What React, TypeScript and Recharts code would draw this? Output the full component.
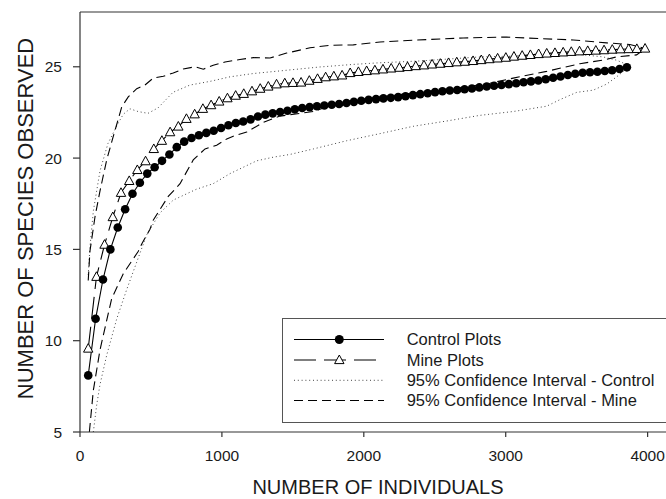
import React from 'react';
import { LineChart, Line, XAxis, YAxis, ReferenceLine, Customized } from 'recharts';

// Control plots (filled circles)
const controlX = [58,110,162,214,266,318,370,422,474,526,578,630,682,734,786,838,890,942,994,1046,1098,1150,1202,1254,1306,1358,1410,1462,1514,1566,1618,1670,1722,1774,1826,1878,1930,1982,2034,2086,2138,2190,2242,2294,2346,2398,2450,2502,2554,2606,2658,2710,2762,2814,2866,2918,2970,3022,3074,3126,3178,3230,3282,3334,3386,3438,3490,3542,3594,3646,3698,3750,3802,3854];
const controlY = [8.1,11.2,13.35,15.0,16.2,17.2,18.05,18.65,19.15,19.5,19.85,20.2,20.6,20.9,21.1,21.25,21.38,21.5,21.65,21.8,21.92,22.0,22.12,22.28,22.38,22.45,22.52,22.59,22.67,22.74,22.79,22.84,22.88,22.92,22.96,23.02,23.08,23.14,23.19,23.23,23.27,23.3,23.34,23.39,23.45,23.5,23.55,23.61,23.66,23.7,23.73,23.77,23.81,23.87,23.92,23.96,24.0,24.05,24.1,24.15,24.2,24.25,24.32,24.4,24.47,24.55,24.62,24.67,24.7,24.73,24.77,24.81,24.88,24.97];

// Mine plots (open triangles)
const mineX = [58,116,173,231,289,347,404,462,520,577,635,693,750,808,866,924,981,1039,1097,1154,1212,1270,1327,1385,1443,1501,1558,1616,1674,1731,1789,1847,1904,1962,2020,2078,2135,2193,2251,2308,2366,2424,2481,2539,2597,2655,2712,2770,2828,2885,2943,3001,3058,3116,3174,3232,3289,3347,3405,3462,3520,3578,3635,3693,3751,3809,3866,3924,3982];
const mineY = [9.57,13.5,15.26,16.77,18.1,18.75,19.35,19.83,20.5,20.95,21.42,21.73,22.15,22.4,22.7,22.9,23.1,23.28,23.42,23.52,23.66,23.8,23.92,24.04,24.1,24.12,24.14,24.24,24.34,24.43,24.48,24.53,24.66,24.72,24.77,24.81,24.86,24.91,24.95,24.99,25.04,25.08,25.13,25.17,25.21,25.25,25.28,25.32,25.37,25.42,25.46,25.5,25.56,25.61,25.65,25.7,25.73,25.76,25.79,25.82,25.85,25.87,25.89,25.91,25.94,25.96,25.97,25.98,26.0];

// 95% CI - Control (dotted)
const ciCtrlUpperX = [58,70,94,141,197,268,305,352,409,479,550,655,775,916,1057,1221,1456,1691,1926,2090,2396,2818,3288,3523,3687,3782,3830,3854];
const ciCtrlUpperY = [13.6,15.1,17.1,19.3,20.8,21.9,22.4,22.7,22.55,22.45,22.75,23.6,24.0,24.2,24.45,24.63,24.81,24.99,25.13,25.21,25.32,25.54,25.63,25.67,25.54,25.36,25.2,24.97];
const ciCtrlLowerX = [94,118,141,188,259,329,423,470,564,657,822,939,1057,1245,1362,1480,1644,1879,2114,2348,2584,2818,3053,3288,3382,3500,3617,3711,3782,3829,3854];
const ciCtrlLowerY = [5.0,6.5,7.6,9.2,11.2,12.8,14.8,15.8,17.0,17.7,18.3,18.6,19.15,19.85,20.05,20.2,20.5,20.95,21.34,21.74,22.03,22.34,22.55,22.84,23.2,23.6,23.72,24.05,24.45,24.75,24.97];

// 95% CI - Mine (dashed)
const ciMineUpperX = [58,70,106,141,188,235,294,340,400,458,516,587,657,728,810,869,939,1022,1127,1221,1339,1456,1621,1762,1926,2114,2466,2701,3006,3241,3476,3711,3875,3982];
const ciMineUpperY = [13.3,14.9,16.8,18.2,19.9,21.2,22.8,23.35,23.8,24.0,24.38,24.48,24.66,24.88,25.0,24.87,25.08,25.26,25.4,25.5,25.48,25.75,26.04,26.18,26.2,26.36,26.5,26.58,26.63,26.54,26.47,26.31,26.22,26.0];
const ciMineLowerX = [66,94,141,223,305,411,435,493,516,622,705,798,881,963,1034,1080,1175,1291,1409,1550,1644,1832,2114,2396,2677,2889,3053,3288,3523,3687,3782,3922,3982];
const ciMineLowerY = [5.0,7.28,9.5,12.3,13.67,14.9,15.3,16.1,16.6,17.9,18.6,19.9,20.5,20.7,21.05,21.2,21.43,21.95,22.3,22.45,22.55,23.05,23.35,23.6,23.85,24.1,24.38,24.75,25.17,25.37,25.54,25.65,26.0];

const xTicks = [0, 1000, 2000, 3000, 4000];
const yTicks = [5, 10, 15, 20, 25];
const legendLabels = ['Control Plots', 'Mine Plots', '95% Confidence Interval - Control', '95% Confidence Interval - Mine'];
const xTitle = 'NUMBER OF INDIVIDUALS';
const yTitle = 'NUMBER OF SPECIES OBSERVED';

const zip = (xs: number[], ys: number[]) => xs.map((x, i) => ({ x, y: ys[i] }));

const controlData = zip(controlX, controlY);
const mineData = zip(mineX, mineY);
const ciCtrlUpper = zip(ciCtrlUpperX, ciCtrlUpperY);
const ciCtrlLower = zip(ciCtrlLowerX, ciCtrlLowerY);
const ciMineUpper = zip(ciMineUpperX, ciMineUpperY);
const ciMineLower = zip(ciMineLowerX, ciMineLowerY);

const FONT = '"Liberation Sans", Arial, sans-serif';
const INK = '#1a1a1a';
const AXIS = '#333';

const triPoints = (cx: number, cy: number) =>
  `${cx},${cy - 5} ${cx - 4.7},${cy + 3.6} ${cx + 4.7},${cy + 3.6}`;

const CircleDot = (p: any) => (
  <circle key={`c${p.index}`} cx={p.cx} cy={p.cy} r={4.3} fill="#000" stroke="none" />
);
const TriDot = (p: any) => (
  <polygon key={`t${p.index}`} points={triPoints(p.cx, p.cy)} fill="#fff" stroke="#000" strokeWidth={1} />
);

const Overlay = () => {
  const rows = [339.5, 360, 380.3, 400.5];
  const x0 = 294;
  const x1 = 384;
  const cx = 339.3;
  return (
    <g fontFamily={FONT}>
      <text
        x={378}
        y={494}
        textAnchor="middle"
        fontSize={20}
        fill={INK}
      >
        {xTitle}
      </text>
      <text
        transform="translate(33,218.5) rotate(-90)"
        textAnchor="middle"
        fontSize={22}
        fill={INK}
      >
        {yTitle}
      </text>
      <rect x={282.5} y={318.5} width={400} height={104} fill="#fff" stroke="#555" strokeWidth={1} />
      <line x1={x0} x2={x1} y1={rows[0]} y2={rows[0]} stroke="#000" strokeWidth={1.1} />
      <circle cx={cx} cy={rows[0]} r={4.5} fill="#000" />
      <line x1={x0} x2={x1} y1={rows[1]} y2={rows[1]} stroke="#000" strokeWidth={1.1} strokeDasharray="22 8" />
      <polygon points={triPoints(cx, rows[1])} fill="#fff" stroke="#000" strokeWidth={1} />
      <line x1={x0} x2={x1} y1={rows[2]} y2={rows[2]} stroke="#444" strokeWidth={1} strokeDasharray="1 2.8" />
      <line x1={x0} x2={x1} y1={rows[3]} y2={rows[3]} stroke="#000" strokeWidth={1.1} strokeDasharray="9 5" />
      {legendLabels.map((t, i) => (
        <text key={t} x={406.7} y={rows[i]} dy="0.36em" fontSize={16.5} fill={INK}>
          {t}
        </text>
      ))}
    </g>
  );
};

export default function App() {
  return (
    <div style={{ position: 'absolute', left: 0, top: 0, width: 666, height: 499, overflow: 'hidden', background: '#fff' }}>
      <LineChart
        width={680}
        height={499}
        margin={{ top: 12, right: 4, left: 0, bottom: 27 }}
        style={{ fontFamily: FONT }}
      >
        <XAxis
          dataKey="x"
          type="number"
          domain={[0, 4200]}
          ticks={xTicks}
          allowDataOverflow
          height={40}
          tickSize={5}
          tickMargin={13}
          stroke={AXIS}
          axisLine={{ stroke: AXIS, strokeWidth: 1.2 }}
          tickLine={{ stroke: AXIS, strokeWidth: 1.2 }}
          tick={{ fill: INK, fontSize: 15.5, fontFamily: FONT }}
        />
        <YAxis
          dataKey="y"
          type="number"
          domain={[5, 28]}
          ticks={yTicks}
          allowDataOverflow
          width={80}
          tickSize={7}
          tickMargin={11}
          stroke={AXIS}
          axisLine={{ stroke: AXIS, strokeWidth: 1.2 }}
          tickLine={{ stroke: AXIS, strokeWidth: 1.2 }}
          tick={{ fill: INK, fontSize: 15.5, fontFamily: FONT }}
        />
        <ReferenceLine y={28} stroke={AXIS} strokeWidth={1.2} />
        <Line data={ciCtrlUpper} dataKey="y" type="linear" stroke="#444" strokeWidth={1} strokeDasharray="1 2.8" dot={false} activeDot={false} isAnimationActive={false} />
        <Line data={ciCtrlLower} dataKey="y" type="linear" stroke="#444" strokeWidth={1} strokeDasharray="1 2.8" dot={false} activeDot={false} isAnimationActive={false} />
        <Line data={ciMineUpper} dataKey="y" type="linear" stroke="#000" strokeWidth={1.1} strokeDasharray="9 5" dot={false} activeDot={false} isAnimationActive={false} />
        <Line data={ciMineLower} dataKey="y" type="linear" stroke="#000" strokeWidth={1.1} strokeDasharray="9 5" dot={false} activeDot={false} isAnimationActive={false} />
        <Line data={mineData} dataKey="y" type="linear" stroke="#000" strokeWidth={1.1} strokeDasharray="22 8" dot={TriDot} activeDot={false} isAnimationActive={false} />
        <Line data={controlData} dataKey="y" type="linear" stroke="#000" strokeWidth={1.1} dot={CircleDot} activeDot={false} isAnimationActive={false} />
        <Customized component={Overlay} />
      </LineChart>
    </div>
  );
}
